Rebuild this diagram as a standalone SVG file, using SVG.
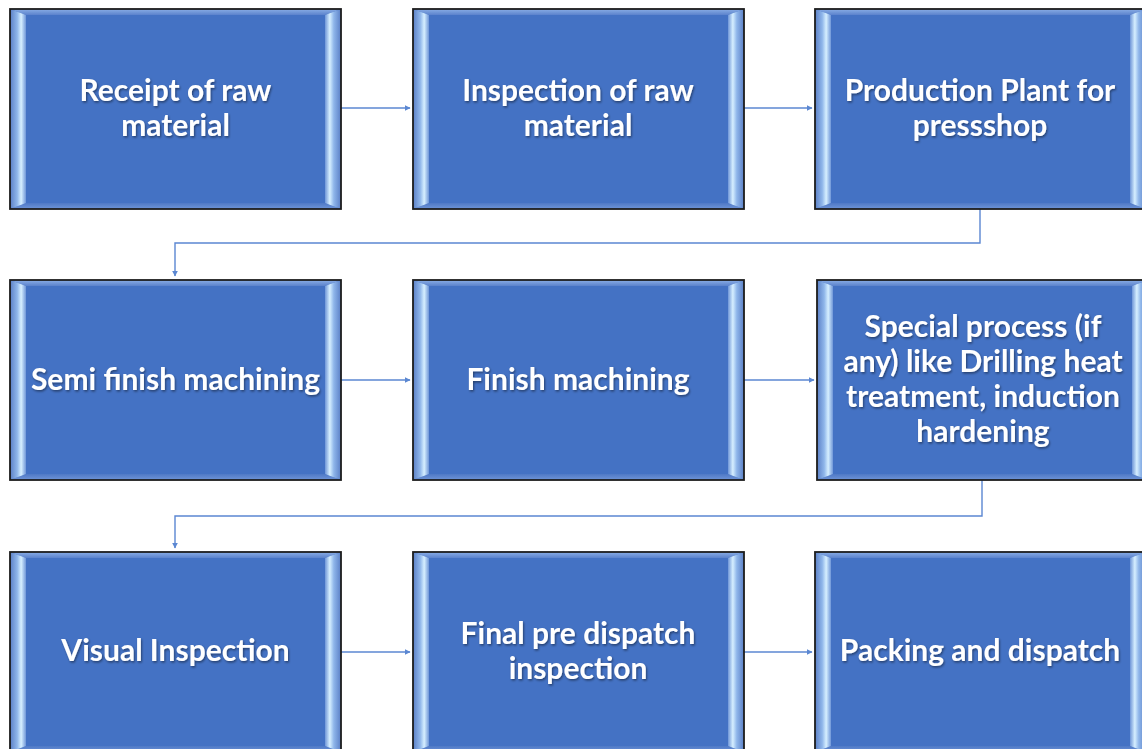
<svg xmlns="http://www.w3.org/2000/svg" xmlns:xlink="http://www.w3.org/1999/xlink" width="1142" height="749" viewBox="0 0 1142 749">
<style>
.lbl{font-family:Lato,"Carlito","Liberation Sans",sans-serif;font-weight:bold;font-size:30px;fill:#ffffff;text-anchor:middle;filter:url(#ts)}
.con{fill:none;stroke:#5b87d2;stroke-width:1.4}
</style>
<defs>
<filter id="ts" x="-10%" y="-30%" width="120%" height="160%">
<feDropShadow dx="1" dy="1.5" stdDeviation="0.8" flood-color="#000" flood-opacity="0.45"/>
</filter>
<marker id="ah" viewBox="0 0 10 10" refX="9" refY="5" markerWidth="6" markerHeight="6" markerUnits="userSpaceOnUse" orient="auto">
<path d="M0,0 L10,5 L0,10 z" fill="#5b87d2"/>
</marker>
<linearGradient id="gl" x1="0" y1="0" x2="1" y2="0">
<stop offset="0" stop-color="#5a7fc6"/>
<stop offset="0.45" stop-color="#8fb6ea"/>
<stop offset="0.7" stop-color="#d6efff"/>
<stop offset="1" stop-color="#6f96d8"/>
</linearGradient>
<linearGradient id="gr" x1="1" y1="0" x2="0" y2="0">
<stop offset="0" stop-color="#5a7fc6"/>
<stop offset="0.45" stop-color="#8fb6ea"/>
<stop offset="0.7" stop-color="#d6efff"/>
<stop offset="1" stop-color="#6f96d8"/>
</linearGradient>
<linearGradient id="gt" x1="0" y1="0" x2="0" y2="1">
<stop offset="0" stop-color="#8aaee6"/>
<stop offset="1" stop-color="#5b82cc"/>
</linearGradient>
<linearGradient id="gb" x1="0" y1="1" x2="0" y2="0">
<stop offset="0" stop-color="#6f95d8"/>
<stop offset="1" stop-color="#4f79c6"/>
</linearGradient>
<g id="box">
<rect x="0" y="0" width="331" height="200" fill="#4472c4"/>
<polygon points="0,0 331,0 315,6 16,6" fill="url(#gt)"/>
<polygon points="0,200 331,200 315,194 16,194" fill="url(#gb)"/>
<polygon points="0,0 16,6 16,194 0,200" fill="url(#gl)"/>
<polygon points="331,0 315,6 315,194 331,200" fill="url(#gr)"/>
<rect x="0" y="0" width="331" height="200" fill="none" stroke="#1c1c1c" stroke-width="1.8"/>
</g>
</defs>
<rect width="1142" height="749" fill="#ffffff"/>
<g id="connectors">
<line class="con" x1="341" y1="108" x2="410" y2="108" marker-end="url(#ah)"/>
<line class="con" x1="743" y1="108" x2="812" y2="108" marker-end="url(#ah)"/>
<polyline class="con" points="980,209 980,243 175,243 175,276" marker-end="url(#ah)"/>
<line class="con" x1="341" y1="380" x2="410" y2="380" marker-end="url(#ah)"/>
<line class="con" x1="743" y1="380" x2="814" y2="380" marker-end="url(#ah)"/>
<polyline class="con" points="982,480 982,516 175,516 175,548" marker-end="url(#ah)"/>
<line class="con" x1="341" y1="652" x2="410" y2="652" marker-end="url(#ah)"/>
<line class="con" x1="743" y1="652" x2="812" y2="652" marker-end="url(#ah)"/>
</g>
<g id="n1"><use xlink:href="#box" x="10" y="9"/>
<text class="lbl" x="175.5" y="101">Receipt of raw</text><text class="lbl" x="175.5" y="136">material</text></g>
<g id="n2"><use xlink:href="#box" x="413" y="9"/>
<text class="lbl" x="578" y="101">Inspection of raw</text><text class="lbl" x="578" y="136">material</text></g>
<g id="n3"><use xlink:href="#box" x="815" y="9"/>
<text class="lbl" x="980" y="101">Production Plant for</text><text class="lbl" x="980" y="136">pressshop</text></g>
<g id="n4"><use xlink:href="#box" x="10" y="280"/>
<text class="lbl" x="175.5" y="390">Semi finish machining</text></g>
<g id="n5"><use xlink:href="#box" x="413" y="280"/>
<text class="lbl" x="578" y="390">Finish machining</text></g>
<g id="n6"><use xlink:href="#box" x="817" y="280"/>
<text class="lbl" x="983" y="337">Special process (if</text><text class="lbl" x="983" y="372">any) like Drilling heat</text><text class="lbl" x="983" y="407">treatment, induction</text><text class="lbl" x="983" y="442">hardening</text></g>
<g id="n7"><use xlink:href="#box" x="10" y="552"/>
<text class="lbl" x="175.5" y="661">Visual Inspection</text></g>
<g id="n8"><use xlink:href="#box" x="413" y="552"/>
<text class="lbl" x="578" y="644">Final pre dispatch</text><text class="lbl" x="578" y="679">inspection</text></g>
<g id="n9"><use xlink:href="#box" x="815" y="552"/>
<text class="lbl" x="980" y="661">Packing and dispatch</text></g>
</svg>
